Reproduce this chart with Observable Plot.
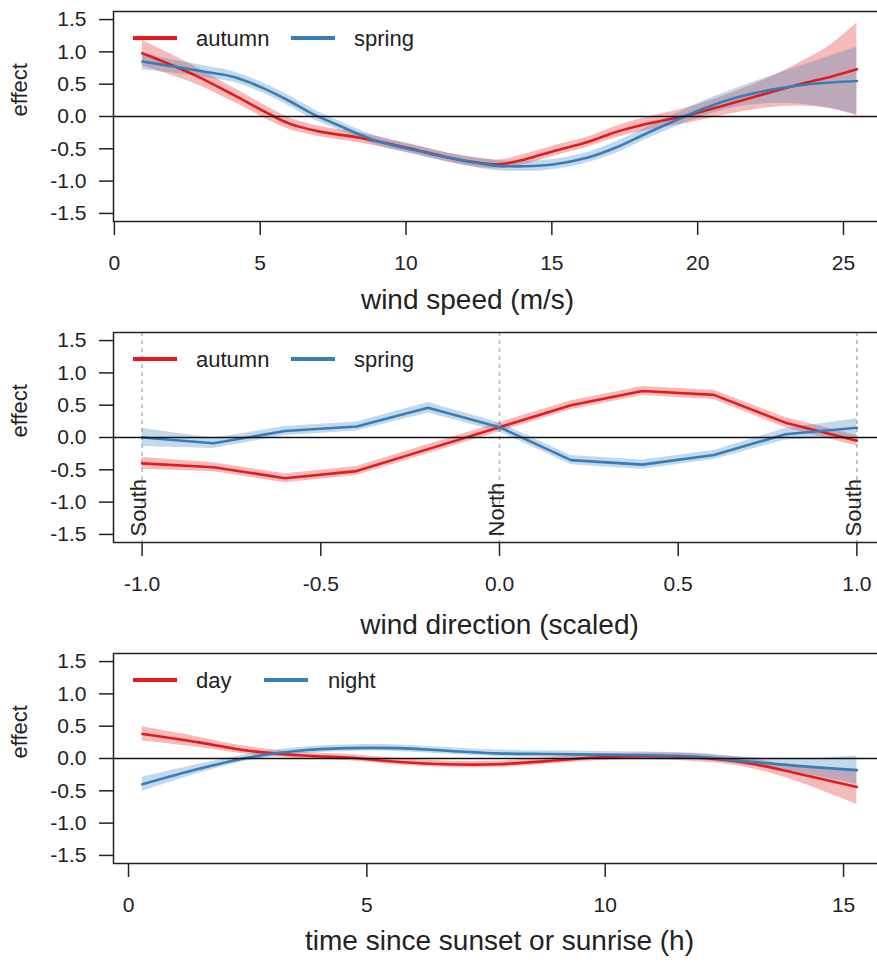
<!DOCTYPE html>
<html><head><meta charset="utf-8">
<script src="https://cdn.jsdelivr.net/npm/d3@7"></script>
<script src="https://cdn.jsdelivr.net/npm/@observablehq/plot@0.6"></script>
<style>
html,body{margin:0;padding:0;background:#fff;overflow:hidden;}
.panel{position:relative;width:877px;height:321px;}
.leg{position:absolute;font-family:"Liberation Sans",Arial,Helvetica,sans-serif;font-size:22px;color:#222;line-height:22px;white-space:nowrap;}
.sw{position:absolute;height:4px;}
</style></head><body><div id="chart"></div>
<script>
// ---------- shared ----------
const yTicks = [-1.5, -1.0, -0.5, 0.0, 0.5, 1.0, 1.5];
const RED = "#E41A1C", BLUE = "#377EB8";

// ---------- panel 1: wind speed ----------
const speedTicks = [0, 5, 10, 15, 20, 25];
const speedAutumnX  = [0.96, 2.0, 2.9, 4.1, 5.3, 6.0, 7.0, 8.4, 10.0, 11.4, 12.4, 13.2, 14.1, 15.1, 16.2, 17.2, 18.2, 19.6, 20.9, 22.3, 23.6, 24.6, 25.46];
const speedAutumnY  = [0.98, 0.79, 0.61, 0.33, 0.04, -0.11, -0.23, -0.33, -0.48, -0.63, -0.71, -0.74, -0.66, -0.53, -0.40, -0.24, -0.12, 0.01, 0.17, 0.35, 0.51, 0.62, 0.73];
const speedAutumnLo = [0.78, 0.63, 0.48, 0.22, -0.06, -0.20, -0.31, -0.41, -0.55, -0.70, -0.78, -0.81, -0.74, -0.61, -0.48, -0.33, -0.22, -0.11, 0.02, 0.13, 0.16, 0.12, 0.01];
const speedAutumnHi = [1.18, 0.95, 0.74, 0.44, 0.14, -0.02, -0.15, -0.25, -0.41, -0.56, -0.64, -0.67, -0.58, -0.45, -0.32, -0.15, -0.02, 0.13, 0.32, 0.57, 0.86, 1.12, 1.45];
const speedSpringX  = [0.96, 2.07, 3.26, 4.1, 5.1, 6.0, 6.8, 7.7, 9.0, 10.4, 11.7, 13.1, 14.1, 15.1, 16.2, 17.2, 18.2, 19.2, 20.3, 21.4, 22.6, 23.8, 25.46];
const speedSpringY  = [0.85, 0.77, 0.68, 0.61, 0.44, 0.24, 0.04, -0.14, -0.38, -0.53, -0.66, -0.76, -0.77, -0.74, -0.64, -0.48, -0.27, -0.07, 0.14, 0.30, 0.42, 0.50, 0.55];
const speedSpringLo = [0.72, 0.67, 0.59, 0.53, 0.36, 0.16, -0.04, -0.21, -0.45, -0.60, -0.73, -0.84, -0.85, -0.82, -0.72, -0.57, -0.36, -0.17, 0.02, 0.15, 0.20, 0.18, 0.03];
const speedSpringHi = [0.98, 0.87, 0.77, 0.69, 0.52, 0.32, 0.12, -0.07, -0.31, -0.46, -0.59, -0.68, -0.69, -0.66, -0.56, -0.39, -0.18, 0.03, 0.26, 0.45, 0.64, 0.82, 1.07];

// ---------- panel 2: wind direction ----------
const dirTicks = [-1.0, -0.5, 0.0, 0.5, 1.0];
const dirX = [-1.0, -0.8, -0.6, -0.4, -0.2, 0.0, 0.2, 0.4, 0.6, 0.8, 1.0];
const dirAutumnY  = [-0.40, -0.46, -0.63, -0.52, -0.18, 0.16, 0.50, 0.72, 0.66, 0.23, -0.05];
const dirAutumnLo = [-0.49, -0.53, -0.70, -0.59, -0.25, 0.09, 0.43, 0.65, 0.59, 0.15, -0.13];
const dirAutumnHi = [-0.31, -0.39, -0.56, -0.45, -0.11, 0.23, 0.57, 0.79, 0.73, 0.31, 0.03];
const dirSpringY  = [0.00, -0.09, 0.10, 0.17, 0.46, 0.16, -0.35, -0.42, -0.27, 0.05, 0.15];
const dirSpringLo = [-0.14, -0.17, 0.03, 0.10, 0.38, 0.09, -0.42, -0.49, -0.34, -0.04, 0.01];
const dirSpringHi = [0.14, -0.01, 0.17, 0.24, 0.54, 0.23, -0.28, -0.35, -0.20, 0.14, 0.29];
const compassAt = [-1.0, 0.0, 1.0];
const compassLabels = ["South", "North", "South"];

// ---------- panel 3: time since sunset/sunrise ----------
const timeTicks = [0, 5, 10, 15];
const timeX = [0.29, 1.48, 2.52, 3.56, 4.6, 5.64, 6.68, 7.72, 8.76, 9.8, 10.84, 11.88, 12.92, 13.96, 15.28];
const timeDayY    = [0.38, 0.25, 0.12, 0.05, 0.015, -0.05, -0.09, -0.09, -0.04, 0.015, 0.035, 0.015, -0.06, -0.22, -0.44];
const timeDayLo   = [0.27, 0.17, 0.06, 0.00, -0.035, -0.10, -0.14, -0.14, -0.09, -0.035, -0.015, -0.045, -0.13, -0.34, -0.71];
const timeDayHi   = [0.49, 0.33, 0.18, 0.10, 0.065, 0.00, -0.04, -0.04, 0.01, 0.065, 0.085, 0.075, 0.01, -0.10, -0.17];
const timeNightY  = [-0.40, -0.16, 0.015, 0.12, 0.16, 0.16, 0.12, 0.08, 0.07, 0.06, 0.05, 0.03, -0.04, -0.11, -0.18];
const timeNightLo = [-0.51, -0.23, -0.035, 0.07, 0.11, 0.11, 0.07, 0.03, 0.02, 0.01, 0.00, -0.02, -0.10, -0.21, -0.40];
const timeNightHi = [-0.29, -0.09, 0.065, 0.17, 0.21, 0.21, 0.17, 0.13, 0.12, 0.11, 0.10, 0.08, 0.02, -0.01, 0.04];

// ---------- helpers ----------
const FONT = '"Liberation Sans", Arial, Helvetica, sans-serif';
function rows(xs, ys, lo, hi) { return xs.map((x, i) => ({x, y: ys[i], lo: lo[i], hi: hi[i]})); }

function panel(cfg) {
  const marks = [];
  if (cfg.compass) marks.push(Plot.ruleX(cfg.compass.at, {x: d => d, stroke: "#b5b5b5", strokeDasharray: "4,4", strokeWidth: 1.5}));
  for (const s of cfg.series) marks.push(Plot.areaY(s.data, {x: "x", y1: "lo", y2: "hi", fill: s.color, fillOpacity: 0.3, curve: cfg.curve}));
  for (const s of cfg.series) marks.push(Plot.line(s.data, {x: "x", y: "y", stroke: s.color, strokeWidth: 2.6, curve: cfg.curve}));
  marks.push(Plot.ruleY([0], {stroke: "#111", strokeWidth: 1.5}));
  if (cfg.compass) marks.push(Plot.text(cfg.compass.at, {x: d => d, text: (d, i) => cfg.compass.labels[i], frameAnchor: "bottom", rotate: -90, textAnchor: "start", dy: -6, dx: 4, fontSize: 22, fill: "#222"}));
  marks.push(Plot.frame({stroke: "#222", strokeWidth: 1.5}));
  marks.push(Plot.axisY({ticks: yTicks, tickSize: 14, tickPadding: 13, tickFormat: d => d.toFixed(1), label: null, strokeWidth: 1.5}));
  marks.push(Plot.axisX({ticks: cfg.xTicks, tickSize: 14, tickPadding: 20, tickFormat: cfg.xFormat, label: null, strokeWidth: 1.5}));
  marks.push(Plot.text([cfg.xLabel], {text: d => d, frameAnchor: "bottom", dx: cfg.labelDx, dy: cfg.labelDy, fontSize: 28, fill: "#222"}));
  marks.push(Plot.text(["effect"], {text: d => d, frameAnchor: "left", dx: -94, rotate: -90, fontSize: 22, fill: "#222"}));
  return Plot.plot({
    width: 877, height: 321,
    marginTop: 11, marginBottom: 100, marginLeft: 113, marginRight: -8,
    x: {domain: cfg.xDomain},
    y: {domain: [-1.625, 1.625]},
    style: {fontFamily: FONT, fontSize: "21px", color: "#222", background: "#fff", overflow: "hidden"},
    marks
  });
}

function legend(div, items) {
  for (const it of items) {
    const sw = document.createElement("div");
    sw.className = "sw";
    sw.style.left = it.lineLeft + "px"; sw.style.top = "36px"; sw.style.width = "44px";
    sw.style.background = it.color;
    div.appendChild(sw);
    const t = document.createElement("div");
    t.className = "leg";
    t.style.left = it.textLeft + "px"; t.style.top = "28px";
    t.textContent = it.label;
    div.appendChild(t);
  }
}

const configs = [
  {
    xDomain: [-0.03, 26.44], xTicks: speedTicks, xFormat: d => String(d), xLabel: "wind speed (m/s)", labelDx: -32, labelDy: 87, curve: "catmull-rom",
    series: [
      {color: RED, data: rows(speedAutumnX, speedAutumnY, speedAutumnLo, speedAutumnHi)},
      {color: BLUE, data: rows(speedSpringX, speedSpringY, speedSpringLo, speedSpringHi)}
    ],
    legend: [{label: "autumn", color: RED, lineLeft: 133, textLeft: 196}, {label: "spring", color: BLUE, lineLeft: 291, textLeft: 354}]
  },
  {
    xDomain: [-1.08, 1.08], xTicks: dirTicks, xFormat: d => d.toFixed(1), xLabel: "wind direction (scaled)", labelDx: 0, labelDy: 91, curve: "linear",
    compass: {at: compassAt, labels: compassLabels},
    series: [
      {color: RED, data: rows(dirX, dirAutumnY, dirAutumnLo, dirAutumnHi)},
      {color: BLUE, data: rows(dirX, dirSpringY, dirSpringLo, dirSpringHi)}
    ],
    legend: [{label: "autumn", color: RED, lineLeft: 133, textLeft: 196}, {label: "spring", color: BLUE, lineLeft: 291, textLeft: 354}]
  },
  {
    xDomain: [-0.315, 15.88], xTicks: timeTicks, xFormat: d => String(d), xLabel: "time since sunset or sunrise (h)", labelDx: 0, labelDy: 86, curve: "catmull-rom",
    series: [
      {color: RED, data: rows(timeX, timeDayY, timeDayLo, timeDayHi)},
      {color: BLUE, data: rows(timeX, timeNightY, timeNightLo, timeNightHi)}
    ],
    legend: [{label: "day", color: RED, lineLeft: 133, textLeft: 196}, {label: "night", color: BLUE, lineLeft: 264, textLeft: 328}]
  }
];

const root = document.getElementById("chart");
for (const cfg of configs) {
  const div = document.createElement("div");
  div.className = "panel";
  div.appendChild(panel(cfg));
  legend(div, cfg.legend);
  root.appendChild(div);
}
</script></body></html>
